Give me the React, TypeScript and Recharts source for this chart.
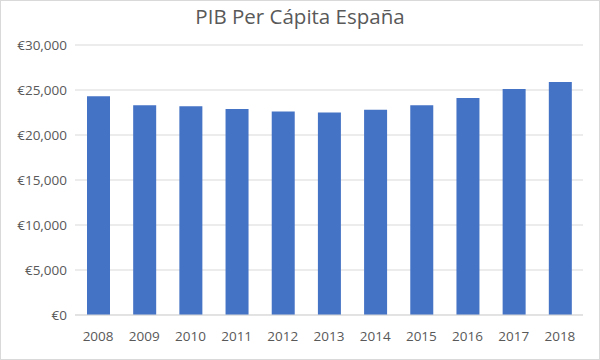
import React from "react";
import { BarChart, Bar, XAxis, YAxis, CartesianGrid } from "recharts";

const years = ["2008", "2009", "2010", "2011", "2012", "2013", "2014", "2015", "2016", "2017", "2018"];
const gdpPerCapita = [24300, 23300, 23200, 22900, 22600, 22500, 22800, 23300, 24100, 25100, 25900];
const yTicks = [0, 5000, 10000, 15000, 20000, 25000, 30000];

const data = years.map((y, i) => ({ year: y, gdp: gdpPerCapita[i] }));

const fmt = (v: number) => "€" + v.toLocaleString("en-US");

export default function App() {
  const font = "'Open Sans', 'Liberation Sans', sans-serif";
  return (
    <div style={{ position: "absolute", left: 0, top: 0, width: 600, height: 360, background: "#fff", fontFamily: font }}>
      <BarChart
        width={600}
        height={360}
        data={data}
        margin={{ top: 45, right: 17, left: 0, bottom: 14 }}
        barSize={23}
      >
        <CartesianGrid vertical={false} stroke="#d9d9d9" />
        <XAxis
          dataKey="year"
          tickLine={false}
          axisLine={{ stroke: "#d9d9d9" }}
          tick={{ fill: "#595959", fontSize: 13.5, fontFamily: font }}
          height={31}
          tickMargin={10}
        />
        <YAxis
          width={75}
          domain={[0, 30000]}
          ticks={yTicks}
          tickFormatter={fmt}
          axisLine={false}
          tickLine={false}
          tick={{ fill: "#595959", fontSize: 13.5, fontFamily: font }}
        />
        <Bar dataKey="gdp" fill="#4472C4" isAnimationActive={false} />
      </BarChart>
      <div style={{ position: "absolute", left: 0, top: 0, width: 598, height: 358, border: "1px solid #d9d9d9", pointerEvents: "none" }} />
      <div style={{ position: "absolute", top: 2, left: 0, width: 600, textAlign: "center", fontSize: 20.5, color: "#595959" }}>
        PIB Per Cápita España
      </div>
    </div>
  );
}
